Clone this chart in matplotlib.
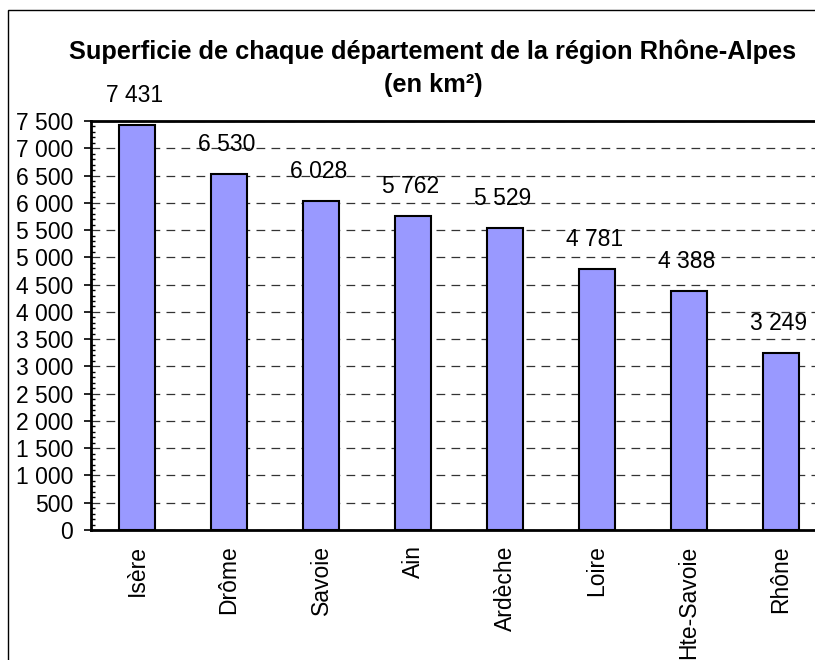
"""Superficie des départements de Rhône-Alpes (bar chart, Excel style)."""

import matplotlib

matplotlib.use("Agg")

import matplotlib.pyplot as plt
from matplotlib.patches import Rectangle
from matplotlib.ticker import FuncFormatter, MultipleLocator

departements = ["Isère", "Drôme", "Savoie", "Ain", "Ardèche", "Loire", "Hte-Savoie", "Rhône"]
superficie = [7431, 6530, 6028, 5762, 5529, 4781, 4388, 3249]

BAR_COLOR = "#9999FF"
FONT = "Liberation Sans"
TEXT_SIZE = 16.5


def fmt_fr(v, _pos=None):
    return f"{int(v):,}".replace(",", " ")


plt.rcParams["font.family"] = FONT
fig = plt.figure(figsize=(8.15, 6.6), dpi=100)

# outer chart border (cropped on the right and bottom)
fig.patches.append(Rectangle((8 / 815, -0.1), 1.2, (660 - 10) / 660 + 0.1,
                             transform=fig.transFigure, fill=False,
                             edgecolor="black", linewidth=1.0))

ax = fig.add_axes([91 / 815, (660 - 530) / 660, 736 / 815, 409 / 660])
x = list(range(len(departements)))
ax.bar(x, superficie, width=0.4, color=BAR_COLOR, edgecolor="black", linewidth=1.5, zorder=2)

ax.set_xlim(-0.5, len(departements) - 0.5)
ax.set_ylim(0, 7500)
ax.yaxis.set_major_locator(MultipleLocator(500))
ax.yaxis.set_minor_locator(MultipleLocator(100))
ax.yaxis.set_major_formatter(FuncFormatter(fmt_fr))
ax.tick_params(axis="y", which="major", direction="out", length=5, width=1.2,
               labelsize=TEXT_SIZE, pad=8)
ax.tick_params(axis="y", which="minor", direction="in", length=3, width=1.0)
ax.set_xticks(x)
ax.set_xticklabels(departements, rotation=90, fontsize=TEXT_SIZE)
ax.tick_params(axis="x", length=0, pad=11)

ax.grid(axis="y", which="major", color="#333333", linestyle=(0, (7, 5)), linewidth=0.9, zorder=0)
for side in ["left", "top", "bottom"]:
    ax.spines[side].set_linewidth(2)
ax.spines["right"].set_visible(False)

for xi, v in zip(x, superficie):
    ax.annotate(fmt_fr(v), (xi, v), xytext=(-2, 13), textcoords="offset points",
                ha="center", va="bottom", fontsize=TEXT_SIZE, annotation_clip=False)

fig.text(433 / 815, 1 - 52 / 660, "Superficie de chaque département de la région Rhône-Alpes",
         ha="center", va="center", fontsize=18.3, fontweight="bold")
fig.text(433 / 815, 1 - 85 / 660, "(en km²)",
         ha="center", va="center", fontsize=18.3, fontweight="bold")

fig.savefig("out.png", dpi=100)
